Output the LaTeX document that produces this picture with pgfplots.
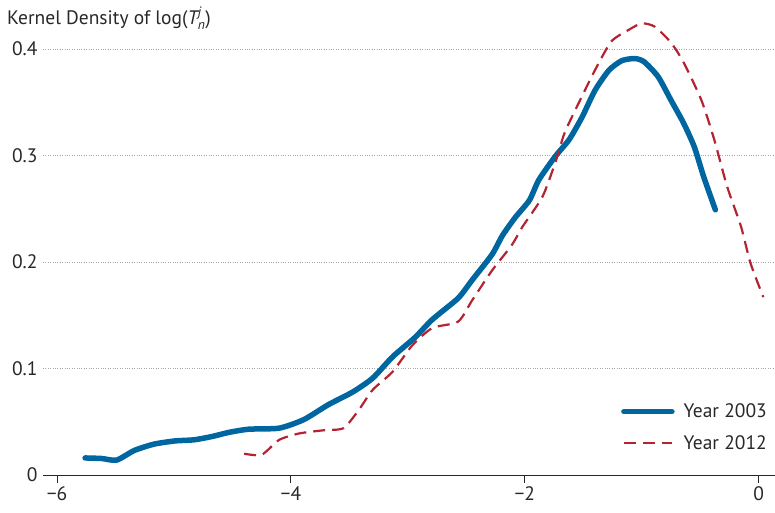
\documentclass[border=0pt]{standalone}
\usepackage{fontspec}
\setmainfont{PT Sans}
\usepackage{pgfplots}
\pgfplotsset{compat=1.18}
\definecolor{cblue}{RGB}{0,102,160}
\definecolor{cred}{RGB}{180,35,50}
\definecolor{ctext}{RGB}{40,40,40}
\begin{document}
\begin{tikzpicture}[x=1pt,y=1pt]
\useasboundingbox (0,0) rectangle (775,513);
\node[anchor=west,text=ctext,font=\fontsize{19.5}{22}\selectfont,inner sep=0] at (7,495) {Kernel Density of log($\mathit{T}_{\mathit{n}}^{\mathit{j}}$)};
\begin{axis}[
  at={(43pt,38pt)}, anchor=south west,
  scale only axis, width=732pt, height=458pt,
  xmin=-6.12, xmax=0.14, ymin=0, ymax=0.43,
  axis x line=bottom, axis y line=left,
  y axis line style={draw=none},
  x axis line style={-, color=ctext, line width=0.9pt},
  xtick={-6,-4,-2,0}, xticklabels={−6,−4,−2,0},
  ytick={0,0.1,0.2,0.3,0.4}, yticklabels={0,0.1,0.2,0.3,0.4},
  xtick style={color=ctext, line width=0.9pt},
  major tick length=8pt,
  tick align=outside,
  ytick style={draw=none},
  tick label style={text=ctext, font=\fontsize{19.5}{22}\selectfont},
  /pgf/number format/assume math mode=true,
  yticklabel style={anchor=east, xshift=6pt},
  ymajorgrids,
  grid style={dotted, color=gray!70, line width=0.8pt},
  clip=false,
  legend style={at={(1,0)}, anchor=south east, xshift=-6pt, yshift=22pt, draw=none, fill=none,
    font=\fontsize{19.5}{22}\selectfont, text=ctext, row sep=12pt, inner sep=0pt,
    nodes={inner sep=2pt}},
  legend cell align=left,
  legend image code/.code={\draw[#1] (0pt,0pt) -- (48pt,0pt); \path (55pt,0pt);},
]
\addplot[cblue, line width=5.5pt, line cap=round, line join=round, smooth, tension=0.4] coordinates {
(-5.76,0.016) (-5.62,0.0155) (-5.49,0.014) (-5.34,0.023) (-5.17,0.029) (-4.99,0.032) (-4.83,0.033)
(-4.68,0.036) (-4.53,0.040) (-4.36,0.043) (-4.10,0.044) (-3.89,0.052) (-3.68,0.066) (-3.47,0.078)
(-3.30,0.091) (-3.13,0.111) (-2.94,0.129) (-2.79,0.146) (-2.57,0.166) (-2.45,0.183) (-2.28,0.207)
(-2.19,0.225) (-2.08,0.242) (-1.96,0.258) (-1.88,0.277) (-1.74,0.299) (-1.62,0.315) (-1.51,0.336)
(-1.40,0.361) (-1.28,0.380) (-1.17,0.389) (-1.06,0.391) (-0.98,0.388) (-0.86,0.374) (-0.75,0.352)
(-0.64,0.330) (-0.55,0.308) (-0.47,0.280) (-0.37,0.249)
};
\addlegendentry{Year 2003}
\addplot[cred, line width=2.2pt, dash pattern=on 12pt off 7pt, smooth, tension=0.4] coordinates {
(-4.40,0.020) (-4.25,0.019) (-4.10,0.033) (-3.93,0.039) (-3.72,0.042) (-3.55,0.044) (-3.42,0.061)
(-3.30,0.080) (-3.13,0.097) (-2.96,0.122) (-2.79,0.138) (-2.57,0.144) (-2.45,0.164) (-2.28,0.192)
(-2.11,0.216) (-2.02,0.233) (-1.85,0.261) (-1.74,0.293) (-1.66,0.321) (-1.54,0.349) (-1.40,0.380)
(-1.26,0.407) (-1.11,0.418) (-1.00,0.424) (-0.89,0.421) (-0.75,0.406) (-0.64,0.387) (-0.49,0.352)
(-0.38,0.315) (-0.27,0.271) (-0.15,0.233) (-0.07,0.199) (0.04,0.167)
};
\addlegendentry{Year 2012}
\end{axis}
\end{tikzpicture}
\end{document}
